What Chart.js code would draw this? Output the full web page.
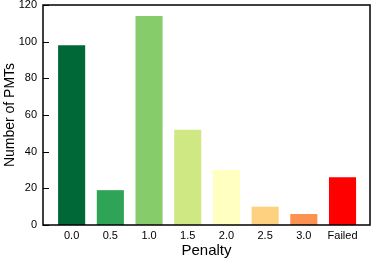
<!DOCTYPE html>
<html>
<head>
<meta charset="utf-8">
<script src="https://cdn.jsdelivr.net/npm/chart.js@4"></script>
<style>
  html, body { margin: 0; padding: 0; background: #fff; }
  #wrap { width: 372px; height: 260px; }
</style>
</head>
<body>
<div id="wrap"><canvas id="myChart" width="372" height="260"></canvas></div>
<script>
'use strict';

// data
var penaltyLabels = ['0.0', '0.5', '1.0', '1.5', '2.0', '2.5', '3.0', 'Failed'];
var pmtCounts = [98, 19, 114, 52, 30, 10, 6, 26];
var barColors = ['#006837', '#2fa356', '#87cc6a', '#d0e883', '#ffffc0', '#fdd17f', '#fc9150', '#ff0000'];
var yTicks = [0, 20, 40, 60, 80, 100, 120];

var fontName = '"Liberation Sans", Arial, sans-serif';

// box round the plot + inward y ticks
var frame = {
  id: 'frame',
  afterDraw: function(chart) {
    var ctx = chart.ctx;
    var a = chart.chartArea;
    var y = chart.scales.y;
    ctx.save();
    ctx.strokeStyle = '#000';
    ctx.lineWidth = 1.5;
    ctx.strokeRect(a.left, a.top, a.right - a.left, a.bottom - a.top);
    ctx.lineWidth = 1;
    for (var i = 0; i < yTicks.length; i++) {
      var py = Math.round(y.getPixelForValue(yTicks[i])) + 0.5;
      ctx.beginPath();
      ctx.moveTo(a.left, py);
      ctx.lineTo(a.left + 6, py);
      ctx.stroke();
    }
    ctx.restore();
  }
};

function makeChart() {
  var ctx = document.getElementById('myChart').getContext('2d');
  var points = pmtCounts.map(function(v, i) { return { x: i, y: v }; });
  new Chart(ctx, {
    type: 'bar',
    data: {
      datasets: [{
        data: points,
        backgroundColor: barColors,
        borderWidth: 0,
        barPercentage: 0.7,
        categoryPercentage: 1
      }]
    },
    options: {
      responsive: false,
      animation: false,
      layout: { padding: { top: 5, right: 2, left: 0, bottom: 0 } },
      plugins: { legend: { display: false }, tooltip: { enabled: false } },
      scales: {
        x: {
          type: 'linear',
          offset: false,
          min: -0.74,
          max: 7.71,
          afterBuildTicks: function(axis) {
            axis.ticks = penaltyLabels.map(function(l, i) { return { value: i }; });
          },
          afterFit: function(axis) {
            axis.height = 35;
            axis.paddingLeft = 0;
            axis.paddingRight = 0;
          },
          grid: { display: false, drawTicks: false },
          border: { display: false },
          ticks: {
            color: '#000',
            font: { family: fontName, size: 11 },
            padding: 4,
            maxRotation: 0,
            autoSkip: false,
            callback: function(v) { return penaltyLabels[v]; }
          },
          title: {
            display: true,
            text: 'Penalty',
            color: '#000',
            font: { family: fontName, size: 15 },
            padding: { top: 0, bottom: 0 }
          }
        },
        y: {
          min: 0,
          max: 120,
          afterBuildTicks: function(axis) {
            axis.ticks = yTicks.map(function(v) { return { value: v }; });
          },
          afterFit: function(axis) {
            axis.width = 43;
            axis.paddingTop = 0;
            axis.paddingBottom = 0;
          },
          grid: { display: false, drawTicks: false },
          border: { display: false },
          ticks: {
            color: '#000',
            font: { family: fontName, size: 11 },
            padding: 6
          },
          title: {
            display: true,
            text: 'Number of PMTs',
            color: '#000',
            font: { family: fontName, size: 14 },
            padding: { top: 2, bottom: 0 }
          }
        }
      }
    },
    plugins: [frame]
  });
}

makeChart();
</script>
</body>
</html>
